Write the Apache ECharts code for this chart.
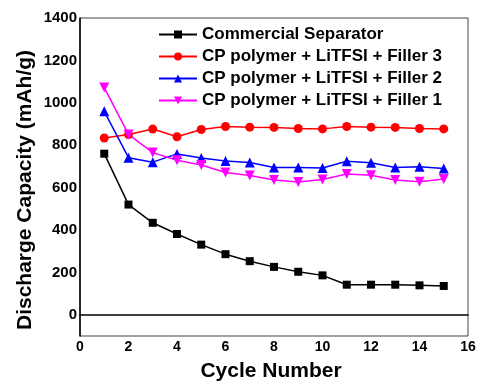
<!DOCTYPE html>
<html>
<head>
<meta charset="utf-8">
<script src="https://cdn.jsdelivr.net/npm/echarts@6/dist/echarts.min.js"></script>
<style>
  html, body { margin: 0; padding: 0; background: #fff; }
  #chart { width: 479px; height: 383px; }
</style>
</head>
<body>
<div id="chart"></div>
<script>
  // cycle numbers (x)
  var cycles = [1, 2, 3, 4, 5, 6, 7, 8, 9, 10, 11, 12, 13, 14, 15];

  // discharge capacity, mAh/g
  var commercial = [760, 520, 434, 381, 331, 286, 253, 226, 203, 186, 142, 142, 142, 139, 136];
  var filler3 = [834, 850, 876, 840, 874, 888, 885, 884, 879, 877, 888, 885, 884, 879, 877];
  var filler2 = [960, 741, 720, 759, 740, 726, 718, 695, 695, 692, 724, 717, 695, 698, 690];
  var filler1 = [1072, 851, 765, 729, 707, 671, 657, 636, 626, 638, 664, 658, 636, 628, 640];

  var names = [
    'Commercial Separator',
    'CP polymer + LiTFSI + Filler 3',
    'CP polymer + LiTFSI + Filler 2',
    'CP polymer + LiTFSI + Filler 1'
  ];

  function pairs (vals) {
    return cycles.map(function (c, i) { return [c, vals[i]]; });
  }

  var font = 'Arial, "Liberation Sans", sans-serif';

  function line (name, vals, color, symbol, size, rotate) {
    return {
      name: name,
      type: 'line',
      data: pairs(vals),
      symbol: symbol,
      symbolSize: size,
      symbolRotate: rotate || 0,
      itemStyle: { color: color },
      lineStyle: { color: color, width: 1.5 },
      animation: false
    };
  }

  var chart = echarts.init(document.getElementById('chart'));

  chart.setOption({
    backgroundColor: '#fff',
    grid: {
      left: 80,
      right: 11,
      top: 18,
      bottom: 47,
      show: true,
      borderColor: '#444',
      borderWidth: 1
    },
    legend: {
      orient: 'vertical',
      left: 153,
      top: 21,
      itemWidth: 38,
      itemHeight: 10,
      itemGap: 5,
      data: names,
      textStyle: {
        fontFamily: font,
        fontWeight: 'bold',
        fontSize: 17,
        color: '#000'
      }
    },
    xAxis: {
      type: 'value',
      min: 0,
      max: 16,
      interval: 2,
      axisLine: { show: true, lineStyle: { color: '#000', width: 1.5 } },
      axisTick: { show: false },
      splitLine: { show: false },
      axisLabel: {
        margin: 4,
        color: '#000',
        fontFamily: font,
        fontWeight: 'bold',
        fontSize: 14
      }
    },
    yAxis: {
      type: 'value',
      min: -100,
      max: 1400,
      interval: 100,
      axisLine: { show: true, onZero: false, lineStyle: { color: '#000', width: 1.5 } },
      axisTick: { show: false },
      splitLine: { show: false },
      axisLabel: {
        margin: 3,
        color: '#000',
        fontFamily: font,
        fontWeight: 'bold',
        fontSize: 15,
        formatter: function (v) {
          return v >= 0 && v % 200 === 0 ? String(v) : '';
        }
      }
    },
    graphic: [
      {
        type: 'text',
        x: 25,
        y: 190,
        rotation: Math.PI / 2,
        style: {
          text: 'Discharge Capacity (mAh/g)',
          fill: '#000',
          font: 'bold 21px Arial, "Liberation Sans", sans-serif',
          textAlign: 'center',
          textVerticalAlign: 'middle'
        }
      },
      {
        type: 'text',
        x: 271,
        y: 361,
        style: {
          text: 'Cycle Number',
          fill: '#000',
          font: 'bold 21px Arial, "Liberation Sans", sans-serif',
          textAlign: 'center',
          textVerticalAlign: 'top'
        }
      }
    ],
    series: [
      line(names[0], commercial, '#000', 'rect', 8),
      line(names[1], filler3, '#ff0000', 'circle', 9),
      line(names[2], filler2, '#0000ff', 'triangle', 10),
      line(names[3], filler1, '#ff00ff', 'triangle', 10, 180)
    ]
  });
</script>
</body>
</html>
